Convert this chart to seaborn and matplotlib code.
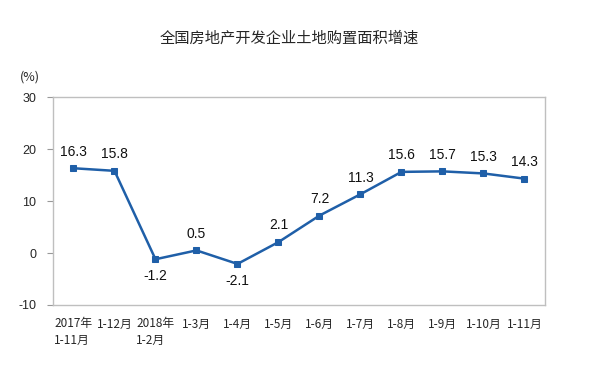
import matplotlib
matplotlib.use('agg')
import matplotlib.pyplot as plt
import seaborn as sns
import pandas as pd

periods = ['2017年\n1-11月', '1-12月', '2018年\n1-2月', '1-3月', '1-4月', '1-5月',
           '1-6月', '1-7月', '1-8月', '1-9月', '1-10月', '1-11月']
growth = [16.3, 15.8, -1.2, 0.5, -2.1, 2.1, 7.2, 11.3, 15.6, 15.7, 15.3, 14.3]

sns.set_theme(style="white")
plt.rcParams['font.family'] = ['Noto Sans CJK SC', 'DejaVu Sans']

df = pd.DataFrame({'period': periods, 'growth': growth})
df['x'] = range(len(df))

fig = plt.figure(figsize=(5.9, 3.68), dpi=100)
ax = fig.add_axes([0.0898, 0.1712, 0.8339, 0.5652])

line_color = '#1f5fa8'
sns.lineplot(data=df, x='x', y='growth', ax=ax, color=line_color, linewidth=1.8,
             marker='s', markersize=5, markeredgecolor=line_color)

# 数据标签：负值放在点下方
for xi, v in zip(df['x'], df['growth']):
    if v < 0:
        ax.annotate(f'{v}', (xi, v), xytext=(0, -7), textcoords='offset points',
                    ha='center', va='top', fontsize=10, color='#111111',
                    family=['Liberation Sans', 'DejaVu Sans'])
    else:
        ax.annotate(f'{v}', (xi, v), xytext=(0, 7), textcoords='offset points',
                    ha='center', va='bottom', fontsize=10, color='#111111',
                    family=['Liberation Sans', 'DejaVu Sans'])

ax.set_xlim(-0.5, len(df) - 0.5)
ax.set_ylim(-10, 30)
ax.set_yticks([-10, 0, 10, 20, 30])
ax.set_yticklabels(['-10', '0', '10', '20', '30'], fontsize=9,
                   family=['Liberation Sans', 'DejaVu Sans'])
ax.set_xticks(df['x'])
ax.set_xticklabels(df['period'], fontsize=8.5, multialignment='left', linespacing=1.3)
ax.tick_params(axis='y', length=4, width=0.8, color='#999999', pad=8, left=True)
ax.tick_params(axis='x', length=0, pad=9)
for s in ax.spines.values():
    s.set_color('#bfbfbf')
    s.set_linewidth(1)
ax.set_xlabel('')
ax.set_ylabel('')

fig.text(0.49, 0.895, '全国房地产开发企业土地购置面积增速', ha='center', va='center', fontsize=11)
fig.text(0.05, 0.79, '(%)', ha='center', va='center', fontsize=9)

fig.savefig('out.png', dpi=100)
